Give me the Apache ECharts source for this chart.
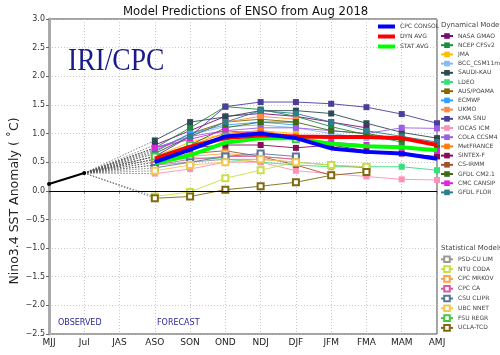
<!DOCTYPE html>
<html><head><meta charset="utf-8">
<script src="https://cdn.jsdelivr.net/npm/echarts@6/dist/echarts.min.js"></script>
<style>html,body{margin:0;padding:0;background:#fff}#c{width:500px;height:355px}</style>
</head><body><div id="c"></div>
<script>
// ---- data ----
var categories = ['MJJ','Jul','JAS','ASO','SON','OND','NDJ','DJF','JFM','FMA','MAM','AMJ'];
var yTicks = [-2.5,-2.0,-1.5,-1.0,-0.5,0.0,0.5,1.0,1.5,2.0,2.5,3.0];
var observed = [0.12, 0.31];                 // MJJ, Jul
// forecasts ASO..AMJ
var cpcConsol = [0.50,0.72,0.95,1.00,0.92,0.74,0.68,0.65,0.56];
var dynAvg    = [0.56,0.77,0.92,0.97,0.95,0.94,0.94,0.92,0.80];
var statAvg   = [0.48,0.62,0.84,0.92,0.92,0.82,0.78,0.76,0.71];

var dynNames = ['NASA GMAO','NCEP CFSv2','JMA','BCC_CSM11m','SAUDI-KAU','LDEO','AUS/POAMA','ECMWF','UKMO','KMA SNU','IOCAS ICM','COLA CCSM4','MetFRANCE','SINTEX-F','CS-IRMM','GFDL CM2.1','CMC CANSIP','GFDL FLOR'];
var nasaGmao  = [0.80,1.05,1.30,1.35,1.30,1.20,1.10,null,null];
var ncepCfsv2 = [0.75,1.10,1.47,1.42,1.30,1.12,0.98,0.85,null];
var jma       = [0.60,0.85,1.00,1.05,1.00,null,null,null,null];
var bccCsm    = [0.72,0.98,1.12,1.15,1.10,1.00,0.92,null,null];
var saudiKau  = [0.88,1.20,1.29,1.40,1.40,1.35,1.18,1.02,0.92];
var ldeo      = [0.50,0.58,0.55,0.50,0.45,0.42,0.42,0.42,0.36];
var ausPoama  = [0.68,1.00,1.20,1.25,1.20,null,null,null,null];
var ecmwf     = [0.70,1.00,1.15,1.20,1.15,null,null,null,null];
var ukmo      = [0.65,0.95,1.20,1.30,1.25,null,null,null,null];
var kmaSnu    = [0.60,0.95,1.47,1.55,1.55,1.52,1.46,1.34,1.18];
var iocasIcm  = [0.30,0.38,0.50,0.50,0.35,0.30,0.25,0.20,0.19];
var colaCcsm4 = [0.75,0.95,1.05,1.10,1.10,1.05,1.00,1.10,1.09];
var metFrance = [0.55,0.80,1.00,1.05,0.95,null,null,null,null];
var sintexF   = [0.60,0.75,0.80,0.80,0.75,0.80,0.70,0.65,0.60];
var csIrmm    = [0.50,0.65,0.70,0.60,0.45,0.27,null,null,null];
var gfdlCm21  = [0.55,0.80,1.10,1.20,1.20,1.05,1.00,0.90,0.80];
var cmcCansip = [0.75,0.90,1.05,1.00,0.90,0.85,0.80,0.75,0.70];
var gfdlFlor  = [0.65,0.95,1.20,1.40,1.35,1.20,1.05,0.95,0.85];
var dynValues = [nasaGmao,ncepCfsv2,jma,bccCsm,saudiKau,ldeo,ausPoama,ecmwf,ukmo,kmaSnu,iocasIcm,colaCcsm4,metFrance,sintexF,csIrmm,gfdlCm21,cmcCansip,gfdlFlor];

var statNames = ['PSD-CU LIM','NTU CODA','CPC MRKOV','CPC CA','CSU CLIPR','UBC NNET','FSU REGR','UCLA-TCD'];
var psdLim   = [0.45,0.50,0.55,0.55,0.50,0.45,0.40,null,null];
var ntuCoda  = [-0.10,-0.02,0.22,0.36,0.50,0.45,0.42,null,null];
var cpcMrkov = [0.55,0.60,0.65,0.60,0.55,null,null,null,null];
var cpcCa    = [0.45,0.55,0.60,0.60,0.55,null,null,null,null];
var csuClipr = [0.40,0.50,0.60,0.65,0.60,null,null,null,null];
var ubcNnet  = [0.35,0.45,0.50,0.55,0.50,null,null,null,null];
var fsuRegr  = [0.60,0.80,0.95,0.95,0.90,null,null,null,null];
var uclaTcd  = [-0.13,-0.10,0.02,0.08,0.15,0.27,0.33,null,null];
var statValues = [psdLim,ntuCoda,cpcMrkov,cpcCa,csuClipr,ubcNnet,fsuRegr,uclaTcd];

// ---- styles ----
var dynColors = ['#7a0a7a','#1c8c40','#ffbb00','#8ab8f2','#2c4a52','#36e07c','#7f6a00','#33a0ff','#ff8a48','#4b3d9c','#ff90bc','#9c5ee8','#ff7c10','#8a0a58','#a0522d','#3e6c12','#e024e0','#2e7e8c'];
var statColors = ['#9a9a9a','#c8e046','#ffa24c','#dc5aa0','#557a98','#f2c850','#44c844','#7f6a10'];

function fc(vals){ var a=[null,null,null]; return a.concat(vals); }
function conn(vals){ var a=[null, observed[1], null, vals[0]]; for(var i=4;i<categories.length;i++)a.push(null); return a; }

var series = [];
dynValues.concat(statValues).forEach(function(v){
  series.push({type:'line', data:conn(v), connectNulls:true, symbol:'none', silent:true,
    lineStyle:{color:'#555', width:0.7, type:[1.5,1.5]}, z:1, animation:false});
});
dynNames.forEach(function(n,i){
  series.push({name:n, type:'line', data:fc(dynValues[i]), symbol:'rect', symbolSize:6,
    itemStyle:{color:dynColors[i]}, lineStyle:{color:dynColors[i], width:0.9}, z:2, animation:false});
});
statNames.forEach(function(n,i){
  series.push({name:n, type:'line', data:fc(statValues[i]), symbol:'emptyRect', symbolSize:6,
    itemStyle:{color:statColors[i], borderWidth:1}, lineStyle:{color:statColors[i], width:0.9}, z:2, animation:false});
});
series.push({name:'STAT AVG', type:'line', data:fc(statAvg), symbol:'none', lineStyle:{color:'#00ff00', width:4}, itemStyle:{color:'#00ff00'}, z:5, animation:false});
series.push({name:'DYN AVG', type:'line', data:fc(dynAvg), symbol:'none', lineStyle:{color:'#ff0000', width:4}, itemStyle:{color:'#ff0000'}, z:6, animation:false});
series.push({name:'CPC CONSOL', type:'line', data:fc(cpcConsol), symbol:'none', lineStyle:{color:'#0000ff', width:4}, itemStyle:{color:'#0000ff'}, z:7, animation:false});
series.push({name:'Observed', type:'line', data:observed, symbol:'circle', symbolSize:4,
  itemStyle:{color:'#000'}, lineStyle:{color:'#000', width:2}, z:8, animation:false,
  markLine:{silent:true, symbol:'none', label:{show:false}, lineStyle:{color:'#000', width:1.2, type:'solid'}, data:[{yAxis:0}], animation:false}});

var font = 'DejaVu Sans';
var legText = {fontSize:6, color:'#444', fontFamily:font, lineHeight:7};
var chart = echarts.init(document.getElementById('c'), null, {renderer:'canvas'});
chart.setOption({
  animation:false,
  backgroundColor:'#fff',
  textStyle:{fontFamily:font},
  title:[
    {text:'Model Predictions of ENSO from Aug 2018', left:123, top:6, padding:0, textStyle:{fontSize:11.7, fontWeight:'normal', color:'#111', fontFamily:font}},
    {text:'Dynamical Models', left:441, top:22, padding:0, textStyle:{fontSize:7, fontWeight:'normal', color:'#444', fontFamily:font}},
    {text:'Statistical Models', left:441, top:245, padding:0, textStyle:{fontSize:7, fontWeight:'normal', color:'#444', fontFamily:font}},
    {text:'OBSERVED', left:58, top:319, padding:0, textStyle:{fontSize:8, fontWeight:'normal', color:'#2a2a9a', fontFamily:font}},
    {text:'FORECAST', left:157, top:319, padding:0, textStyle:{fontSize:8, fontWeight:'normal', color:'#2a2a9a', fontFamily:font}}
  ],
  graphic:[
    {type:'text', left:68, top:46, scaleX:0.86, style:{text:'IRI/CPC', font:'32px "Liberation Serif"', fill:'#1a1a8a'}},
    {type:'text', x:15, y:201, rotation:Math.PI/2, style:{text:'Nino3.4 SST Anomaly ( \u02DAC)', font:'12.5px "DejaVu Sans"', fill:'#222', textAlign:'center', textVerticalAlign:'middle'}}
  ],
  grid:{left:49, right:63, top:19, bottom:21, show:true, borderColor:'#444', borderWidth:1},
  legend:[
    {data:['CPC CONSOL','DYN AVG','STAT AVG'], orient:'vertical', left:378, top:23, padding:0, icon:'rect', itemWidth:17, itemHeight:4, itemGap:3,
      textStyle:legText},
    {data:dynNames, orient:'vertical', left:440, top:32.5, padding:0, itemWidth:12, itemHeight:7, itemGap:2.2,
      textStyle:legText},
    {data:statNames, orient:'vertical', left:440, top:255.5, padding:0, itemWidth:12, itemHeight:7, itemGap:2.2,
      textStyle:legText}
  ],
  xAxis:{type:'category', data:categories, boundaryGap:false,
    axisLine:{show:true, lineStyle:{color:'#ccc', width:1}},
    axisTick:{show:true, length:3, lineStyle:{color:'#888'}},
    axisLabel:{fontSize:9, color:'#222', margin:4, fontFamily:font},
    splitLine:{show:true, lineStyle:{color:'#bbb', type:[1,2], width:0.8}}},
  yAxis:{type:'value', min:yTicks[0], max:yTicks[yTicks.length-1], interval:0.5,
    axisLine:{show:true, lineStyle:{color:'#aaa', width:3}},
    axisTick:{show:true, length:3, lineStyle:{color:'#666'}},
    axisLabel:{fontSize:8, color:'#333', margin:4, fontFamily:font,
      formatter:function(v){ return (v<0?'\u2212':'')+Math.abs(v).toFixed(1); }},
    splitLine:{show:true, lineStyle:{color:'#bbb', type:[1,2], width:0.8}}},
  series:series
});
</script></body></html>
